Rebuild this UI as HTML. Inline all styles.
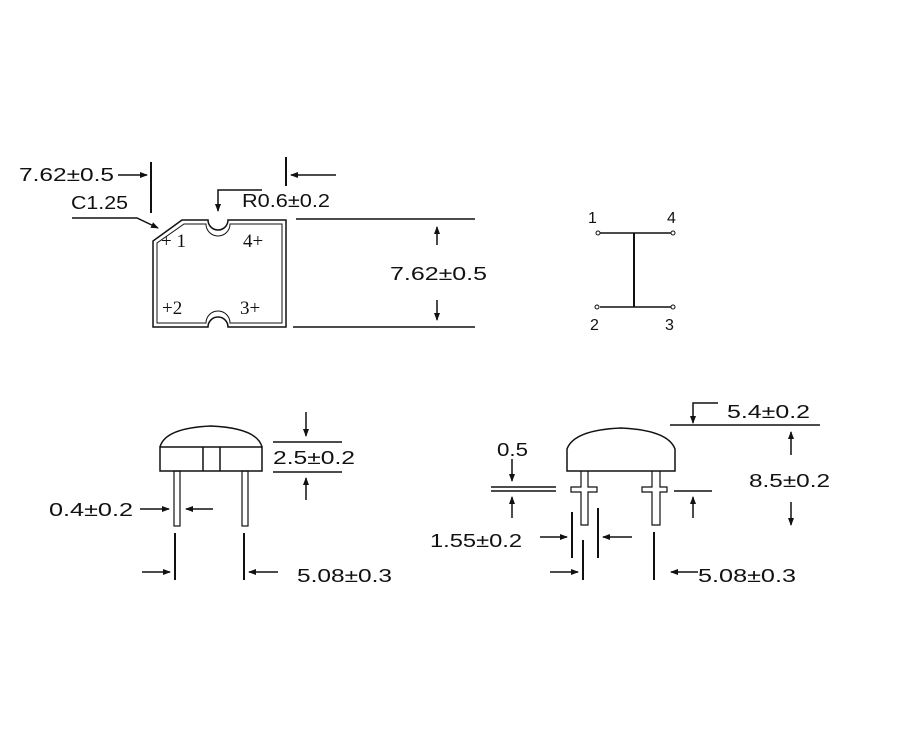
<!DOCTYPE html>
<html><head><style>body{margin:0;background:#fff}svg{display:block}text{font-family:"Liberation Sans",sans-serif;font-size:18px;fill:#111}.s{font-family:"Liberation Serif",serif;font-size:19px}</style></head><body>
<svg width="919" height="745" viewBox="0 0 919 745">
<defs><marker id="a" markerWidth="8" markerHeight="8" refX="7" refY="4" orient="auto" markerUnits="userSpaceOnUse"><path d="M0,1 L8,4 L0,7z" fill="#111"/></marker></defs>
<g stroke="#111" fill="none" stroke-width="1.5">
<path d="M153,327 V241 L182,220 H208 A10,10 0 0 0 228,220 H286 V327 H228 A10,10 0 0 0 208,327 Z"/>
<path d="M157,323 V243 L184,224 H206 A12,12 0 0 0 230,224 H282 V323 H230 A12,12 0 0 0 206,323 Z" stroke-width="1"/>
<line x1="151" y1="162" x2="151" y2="213" stroke-width="2"/>
<line x1="286" y1="157" x2="286" y2="186" stroke-width="2"/>
<line x1="118" y1="175" x2="147" y2="175" marker-end="url(#a)"/>
<line x1="336" y1="175" x2="291" y2="175" marker-end="url(#a)"/>
<path d="M72,218 H137 L158,228" marker-end="url(#a)"/>
<path d="M262,190 H218 V211" marker-end="url(#a)"/>
<line x1="296" y1="219" x2="475" y2="219"/>
<line x1="293" y1="327" x2="475" y2="327"/>
<line x1="437" y1="245" x2="437" y2="227" marker-end="url(#a)"/>
<line x1="437" y1="300" x2="437" y2="320" marker-end="url(#a)"/>
<line x1="600" y1="233" x2="671" y2="233"/>
<line x1="634" y1="233" x2="634" y2="307" stroke-width="2"/>
<line x1="600" y1="307" x2="671" y2="307"/>
<circle cx="598" cy="233" r="2" stroke-width="1"/><circle cx="673" cy="233" r="2" stroke-width="1"/>
<circle cx="597" cy="307" r="2" stroke-width="1"/><circle cx="673" cy="307" r="2" stroke-width="1"/>
<path d="M160,447 Q165,428 211,426 Q257,428 262,447"/>
<rect x="160" y="447" width="102" height="24"/>
<line x1="203" y1="447" x2="203" y2="471"/><line x1="220" y1="447" x2="220" y2="471"/>
<rect x="174" y="471" width="6" height="55" stroke-width="1.2"/>
<rect x="242" y="471" width="6" height="55" stroke-width="1.2"/>
<line x1="175" y1="533" x2="175" y2="580" stroke-width="2"/>
<line x1="244" y1="533" x2="244" y2="580" stroke-width="2"/>
<line x1="142" y1="572" x2="170" y2="572" marker-end="url(#a)"/>
<line x1="278" y1="572" x2="249" y2="572" marker-end="url(#a)"/>
<line x1="140" y1="509" x2="169" y2="509" marker-end="url(#a)"/>
<line x1="213" y1="509" x2="186" y2="509" marker-end="url(#a)"/>
<line x1="273" y1="442" x2="342" y2="442"/><line x1="273" y1="472" x2="342" y2="472"/>
<line x1="306" y1="412" x2="306" y2="436" marker-end="url(#a)"/>
<line x1="306" y1="500" x2="306" y2="478" marker-end="url(#a)"/>
<path d="M567,471 V449 Q574,430 621,428 Q668,430 675,449 V471 Z"/>
<path d="M581,471 V487 H571 V492 H581 V525 H588 V492 H597 V487 H588 V471" stroke-width="1.2"/>
<path d="M652,471 V487 H642 V492 H652 V525 H660 V492 H667 V487 H660 V471" stroke-width="1.2"/>
<line x1="491" y1="487" x2="556" y2="487"/><line x1="491" y1="491" x2="556" y2="491"/>
<line x1="512" y1="459" x2="512" y2="481" marker-end="url(#a)"/>
<line x1="512" y1="518" x2="512" y2="497" marker-end="url(#a)"/>
<line x1="674" y1="491" x2="712" y2="491"/>
<line x1="693" y1="518" x2="693" y2="497" marker-end="url(#a)"/>
<line x1="670" y1="425" x2="820" y2="425"/>
<path d="M718,403 H693 V423" marker-end="url(#a)"/>
<line x1="791" y1="455" x2="791" y2="432" marker-end="url(#a)"/>
<line x1="791" y1="502" x2="791" y2="525" marker-end="url(#a)"/>
<line x1="572" y1="512" x2="572" y2="558" stroke-width="2"/>
<line x1="598" y1="508" x2="598" y2="558" stroke-width="2"/>
<line x1="540" y1="537" x2="567" y2="537" marker-end="url(#a)"/>
<line x1="632" y1="537" x2="603" y2="537" marker-end="url(#a)"/>
<line x1="583" y1="540" x2="583" y2="580" stroke-width="2"/>
<line x1="654" y1="532" x2="654" y2="580" stroke-width="2"/>
<line x1="550" y1="572" x2="578" y2="572" marker-end="url(#a)"/>
<line x1="698" y1="572" x2="671" y2="572" marker-end="url(#a)"/>
</g>
<text x="19" y="181" textLength="95" lengthAdjust="spacingAndGlyphs">7.62±0.5</text>
<text x="71" y="209" textLength="57" lengthAdjust="spacingAndGlyphs">C1.25</text>
<text x="242" y="207" textLength="88" lengthAdjust="spacingAndGlyphs">R0.6±0.2</text>
<text x="390" y="280" textLength="97" lengthAdjust="spacingAndGlyphs">7.62±0.5</text>
<text class="s" x="161" y="247">+ 1</text>
<text class="s" x="243" y="247">4+</text>
<text class="s" x="162" y="314">+2</text>
<text class="s" x="240" y="314">3+</text>
<text x="588" y="223" style="font-size:16px">1</text>
<text x="667" y="223" style="font-size:16px">4</text>
<text x="590" y="330" style="font-size:16px">2</text>
<text x="665" y="330" style="font-size:16px">3</text>
<text x="273" y="464" textLength="82" lengthAdjust="spacingAndGlyphs">2.5±0.2</text>
<text x="49" y="516" textLength="84" lengthAdjust="spacingAndGlyphs">0.4±0.2</text>
<text x="297" y="582" textLength="95" lengthAdjust="spacingAndGlyphs">5.08±0.3</text>
<text x="497" y="456" textLength="31" lengthAdjust="spacingAndGlyphs">0.5</text>
<text x="727" y="418" textLength="83" lengthAdjust="spacingAndGlyphs">5.4±0.2</text>
<text x="749" y="487" textLength="81" lengthAdjust="spacingAndGlyphs">8.5±0.2</text>
<text x="430" y="547" textLength="92" lengthAdjust="spacingAndGlyphs">1.55±0.2</text>
<text x="698" y="582" textLength="98" lengthAdjust="spacingAndGlyphs">5.08±0.3</text>
</svg></body></html>
